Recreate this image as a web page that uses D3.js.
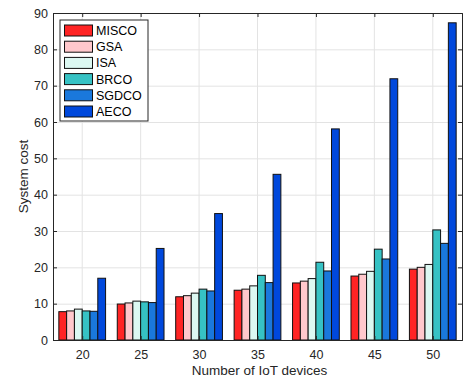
<!DOCTYPE html>
<html>
<head>
<meta charset="utf-8">
<script src="https://cdn.jsdelivr.net/npm/d3@7"></script>
<style>
body { margin: 0; background: #fff; }
text { font-family: "Liberation Sans", Arial, sans-serif; }
</style>
</head>
<body>
<svg width="466" height="379"></svg>
<script>
// devices on x axis
var devices = [20, 25, 30, 35, 40, 45, 50]
var methods = ["MISCO", "GSA", "ISA", "BRCO", "SGDCO", "AECO"]
var colors = ["#ff2424", "#ffc8cc", "#dcf8f2", "#36c2c4", "#1a78dc", "#0048dc"]

var MISCO = [7.8, 9.9, 11.9, 13.7, 15.7, 17.6, 19.5]
var GSA   = [8.0, 10.2, 12.2, 14.0, 16.2, 18.1, 20.0]
var ISA   = [8.5, 10.7, 12.9, 14.9, 16.9, 18.9, 20.8]
var BRCO  = [8.0, 10.5, 14.0, 17.8, 21.4, 25.0, 30.3]
var SGDCO = [7.9, 10.3, 13.5, 15.8, 19.0, 22.3, 26.6]
var AECO  = [17.0, 25.2, 34.8, 45.6, 58.1, 71.9, 87.3]
var series = [MISCO, GSA, ISA, BRCO, SGDCO, AECO]

var yTicks = [0, 10, 20, 30, 40, 50, 60, 70, 80, 90]

var margins = {top: 13, right: 4, bottom: 39, left: 53}
var W = 466, H = 379
var width = W - margins.left - margins.right
var height = H - margins.top - margins.bottom

var svg = d3.select("svg")
var g = svg.append("g").attr("transform", "translate(" + margins.left + "," + margins.top + ")")

var xScale = d3.scaleLinear().domain([0.5, 7.5]).range([0, width])
var yScale = d3.scaleLinear().domain([0, 90]).range([height, 0])
var unit = xScale(2) - xScale(1)
var barW = unit * 0.8 / methods.length

// grid
g.selectAll(".hgrid").data(yTicks).enter().append("line")
  .attr("x1", 0).attr("x2", width)
  .attr("y1", function(d) { return yScale(d) + 0.5 })
  .attr("y2", function(d) { return yScale(d) + 0.5 })
  .attr("stroke", "#e3e3e3").attr("stroke-width", 1)
g.selectAll(".vgrid").data(devices).enter().append("line")
  .attr("y1", 0).attr("y2", height)
  .attr("x1", function(d, i) { return xScale(i + 1) })
  .attr("x2", function(d, i) { return xScale(i + 1) })
  .attr("stroke", "#e3e3e3").attr("stroke-width", 1)

// bars
series.forEach(function(vals, s) {
  g.selectAll(".bar" + s).data(vals).enter().append("rect")
    .attr("x", function(d, i) { return xScale(i + 1) - unit * 0.4 + s * barW })
    .attr("width", barW)
    .attr("y", function(d) { return yScale(d) })
    .attr("height", function(d) { return yScale(0) - yScale(d) })
    .attr("fill", colors[s])
    .attr("stroke", "#111").attr("stroke-width", 1)
})

// axes with inward ticks
var axL = g.append("g").call(d3.axisLeft(yScale).tickValues(yTicks).tickSize(-4).tickPadding(5))
var axR = g.append("g").attr("transform", "translate(" + width + ",0)")
  .call(d3.axisRight(yScale).tickValues(yTicks).tickSize(-4).tickFormat(""))
var xBand = d3.scaleLinear().domain([0.5, 7.5]).range([0, width])
var axB = g.append("g").attr("transform", "translate(0," + height + ")")
  .call(d3.axisBottom(xBand).tickValues([1, 2, 3, 4, 5, 6, 7]).tickSize(-4).tickPadding(10)
    .tickFormat(function(d) { return devices[d - 1] }))
var axT = g.append("g")
  .call(d3.axisTop(xBand).tickValues([1, 2, 3, 4, 5, 6, 7]).tickSize(-4).tickFormat(""))

;[axL, axR, axB, axT].forEach(function(a) {
  a.select(".domain").attr("stroke", "#262626")
  a.selectAll(".tick line").attr("stroke", "#262626")
  a.selectAll("text").attr("fill", "#262626").style("font-size", "12.5px")
    .style("font-family", "Liberation Sans, Arial, sans-serif")
})

// labels
svg.append("text").attr("x", margins.left + width / 2 + 2).attr("y", 375)
  .attr("text-anchor", "middle").attr("fill", "#262626").style("font-size", "13.5px")
  .text("Number of IoT devices")
svg.append("text").attr("transform", "translate(28," + (margins.top + height / 2) + ") rotate(-90)")
  .attr("text-anchor", "middle").attr("fill", "#262626").style("font-size", "13.5px")
  .text("System cost")

// legend
var leg = svg.append("g").attr("transform", "translate(60,20)")
leg.append("rect").attr("width", 88).attr("height", 101)
  .attr("fill", "#fff").attr("stroke", "#262626").attr("stroke-width", 1)
methods.forEach(function(m, i) {
  var y = 5 + i * 16.2
  leg.append("rect").attr("x", 4.5).attr("y", y).attr("width", 28).attr("height", 11)
    .attr("fill", colors[i]).attr("stroke", "#111")
  leg.append("text").attr("x", 36).attr("y", y + 10).attr("fill", "#000")
    .style("font-size", "12.5px").text(m)
})
</script>
</body>
</html>
